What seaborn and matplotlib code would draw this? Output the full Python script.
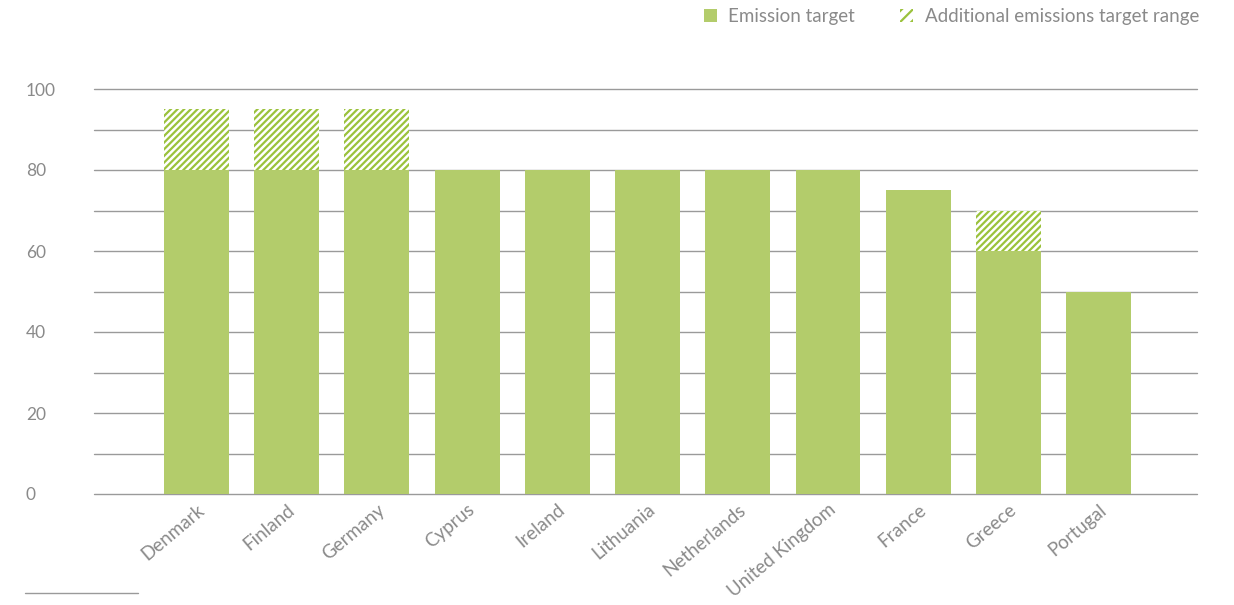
import matplotlib
matplotlib.use("Agg")
import matplotlib.pyplot as plt
from matplotlib.patches import Patch
from matplotlib.lines import Line2D
import seaborn as sns
import pandas as pd

countries = ["Denmark", "Finland", "Germany", "Cyprus", "Ireland", "Lithuania",
             "Netherlands", "United Kingdom", "France", "Greece", "Portugal"]
emission_target = [80, 80, 80, 80, 80, 80, 80, 80, 75, 60, 50]
additional_range = [15, 15, 15, 0, 0, 0, 0, 0, 0, 10, 0]
y_ticks = [0, 20, 40, 60, 80, 100]

GREEN = "#b3cc6b"
HATCH_GREEN = "#9bc23c"
TEXT = "#8a8a8a"
GRID = "#9a9a9a"

sns.set_theme(style="white")
plt.rcParams["font.family"] = ["Lato", "DejaVu Sans"]
plt.rcParams["hatch.linewidth"] = 1.6

df = pd.DataFrame({
    "country": countries,
    "target": emission_target,
    "upper": [b + a for b, a in zip(emission_target, additional_range)],
})

fig = plt.figure(figsize=(12.34, 6.05), dpi=100)
W, H = 1234, 605
ax = fig.add_axes([94 / W, 1 - 494 / H, (1197 - 94) / W, (494 - 89) / H])

# upper end of the range, hatched, drawn underneath the solid target bars
sns.barplot(data=df, x="country", y="upper", ax=ax, color="white",
            width=0.72, saturation=1, errorbar=None, order=countries,
            edgecolor=HATCH_GREEN, linewidth=0, hatch="/////", zorder=2)
sns.barplot(data=df, x="country", y="target", ax=ax, color=GREEN,
            width=0.72, saturation=1, errorbar=None, order=countries,
            linewidth=0, zorder=3)

ax.set_xlim(-1.136, 11.09)
ax.set_ylim(0, 100)
ax.set_yticks(y_ticks)

# horizontal guides every 10 units (labels only every 20)
for yv in range(0, 101, 10):
    ax.axhline(yv, color=GRID, linewidth=1, zorder=1, clip_on=False)
for s in ax.spines.values():
    s.set_visible(False)
ax.set_xlabel("")
ax.set_ylabel("")

ax.tick_params(axis="y", which="both", length=0, pad=49, labelsize=12.5,
               labelcolor=TEXT)
for lbl in ax.get_yticklabels():
    lbl.set_horizontalalignment("left")

ax.tick_params(axis="x", length=0, pad=5, labelsize=13.5, labelcolor=TEXT)
ax.set_xticks(range(len(countries)))
ax.set_xticklabels(countries, rotation=40, ha="right", va="top",
                   rotation_mode="anchor")

handles = [
    Patch(facecolor=GREEN, edgecolor=GREEN, linewidth=0, label="Emission target"),
    Patch(facecolor="white", edgecolor=HATCH_GREEN, linewidth=0, hatch="///",
          label="Additional emissions target range"),
]
fig.legend(handles=handles, loc="upper right", ncol=2, frameon=False,
           bbox_to_anchor=(1199 / W, 1 - 8 / H), borderaxespad=0, borderpad=0,
           handlelength=0.7, handleheight=0.7, handletextpad=0.6,
           columnspacing=2.4, fontsize=13.5, labelcolor=TEXT)

fig.add_artist(Line2D([25 / W, 138 / W], [1 - 593 / H, 1 - 593 / H],
                      color=GRID, linewidth=1))

fig.savefig("out.png", dpi=100)
